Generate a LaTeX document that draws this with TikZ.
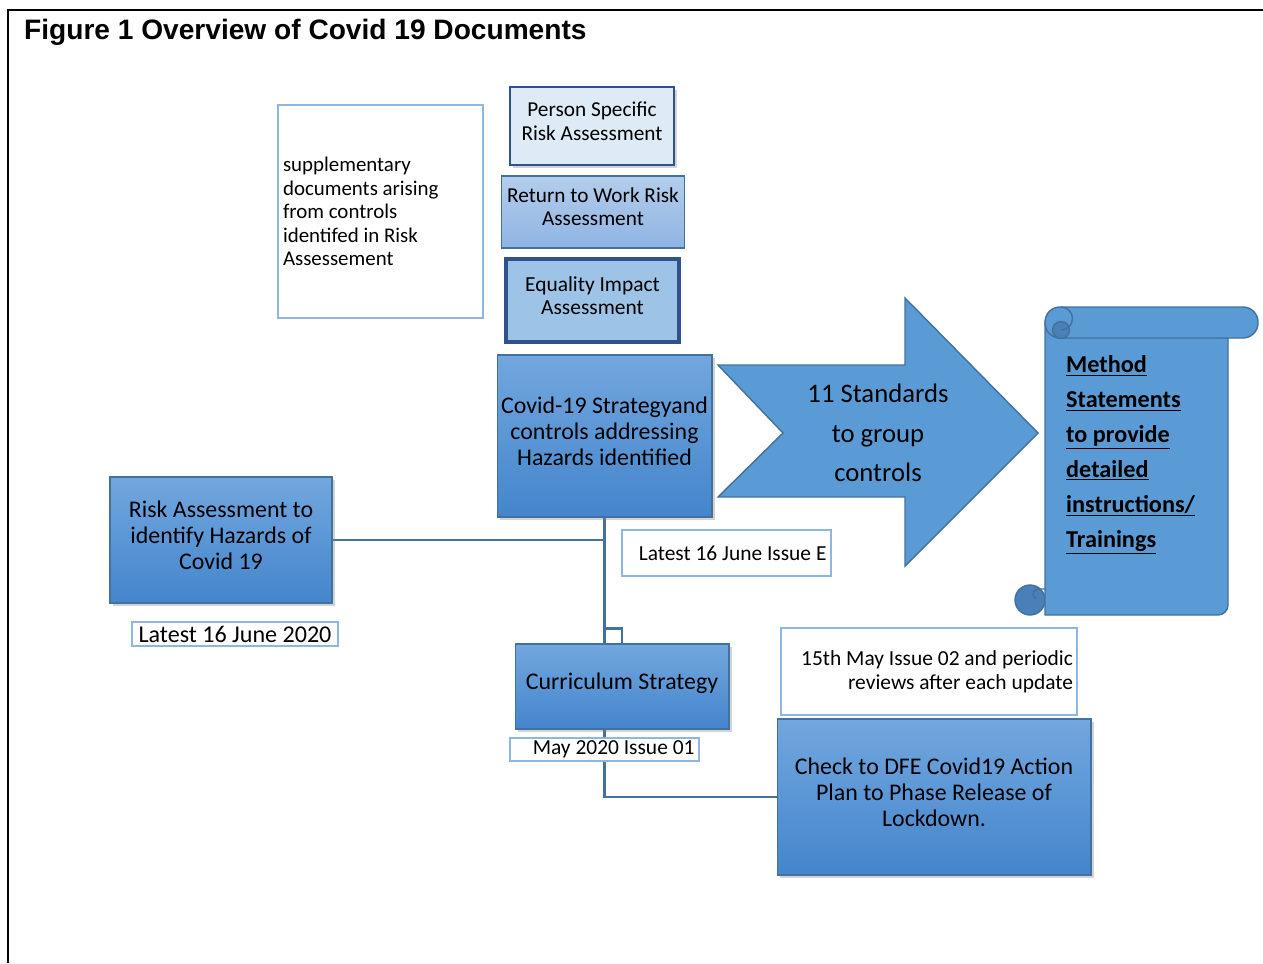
\documentclass[tikz,border=0pt]{standalone}
\usepackage{fontspec}
\setmainfont{Carlito}
\newfontfamily\headfont{Liberation Sans}
\usetikzlibrary{shadows,backgrounds}
\definecolor{linkblue}{HTML}{41719C}
\definecolor{darkblue}{HTML}{2F528F}
\definecolor{paleblue}{HTML}{DEEBF7}
\definecolor{eqblue}{HTML}{9DC3E6}
\definecolor{rtwtop}{HTML}{B4CDEB}
\definecolor{rtwbot}{HTML}{8FB4E3}
\definecolor{boxtop}{HTML}{72A7DE}
\definecolor{boxbot}{HTML}{4485CC}
\definecolor{arrowblue}{HTML}{5B9BD5}
\definecolor{noteblue}{HTML}{8DB6E2}
\definecolor{curlblue}{HTML}{4A80B8}

\begin{document}
\begin{tikzpicture}[x=0.02cm,y=-0.02cm,
    box/.style={draw=linkblue,line width=0.6pt,top color=boxtop,bottom color=boxbot,
      drop shadow={shadow xshift=1.5pt,shadow yshift=-1.5pt,opacity=0.35},
      align=center,inner sep=2pt,text depth=5.8pt,font=\fontsize{13.6}{14.8}\selectfont},
    note/.style={draw=noteblue,line width=0.7pt,fill=white,inner sep=0pt,
      font=\fontsize{12.2}{14}\selectfont},
    link/.style={draw=linkblue,line width=1.3pt},
    scroll/.style={draw=linkblue,line width=0.8pt,fill=arrowblue}]
  \useasboundingbox (0,0) rectangle (1263,963);
  \draw[line width=1.7pt] (1263,10) -- (8,10) -- (8,963);
  \node[anchor=west,font=\headfont\bfseries\fontsize{16}{19}\selectfont] (title) at (18,32) {Figure 1 Overview of Covid 19 Documents};

  \node[note,minimum width=4.1cm,minimum height=4.26cm,text width=3.9cm,align=flush left,
    font=\fontsize{11.9}{13.4}\selectfont] (supp) at (380.5,211.5)
    {supplementary\\documents arising\\from controls\\identifed in Risk\\Assessement};
  \node[draw=darkblue,line width=1.4pt,fill=paleblue,minimum width=3.28cm,minimum height=1.56cm,
    align=center,text depth=5.8pt,font=\fontsize{12.1}{13.7}\selectfont,
    drop shadow={shadow xshift=1.5pt,shadow yshift=-1.5pt,opacity=0.35}] (person) at (592,126)
    {Person Specific\\Risk Assessment};
  \node[draw=linkblue,line width=0.6pt,top color=rtwtop,bottom color=rtwbot,minimum width=3.6cm,
    minimum height=1.44cm,align=center,text depth=5.8pt,font=\fontsize{12.1}{13.1}\selectfont] (rtw) at (593,212)
    {Return to Work Risk\\Assessment};
  \node[draw=darkblue,line width=1.8pt,fill=eqblue,minimum width=3.46cm,minimum height=1.66cm,
    align=center,text depth=5.8pt,font=\fontsize{12.2}{13.1}\selectfont] (equal) at (592.5,300.5)
    {Equality Impact\\Assessment};
  \node[box,minimum width=4.3cm,minimum height=3.24cm] (strat) at (604.5,436)
    {Covid-19 Strategyand\\controls addressing\\Hazards identified};

  \draw[draw=linkblue,fill=arrowblue,line width=0.8pt] (718,365) -- (905,365) -- (905,298) -- (1038,433)
    -- (905,566) -- (905,497) -- (718,497) -- (783,433) -- cycle;
  \node[align=center,font=\fontsize{15.2}{22.5}\selectfont] (stds) at (878,433) {11 Standards\\to group\\controls};

  \path[scroll,fill=curlblue] (1030,600) circle[radius=15];
  \path[scroll] (1045,322) -- (1045,615) -- (1218,615) arc[start angle=90,end angle=0,radius=10]
    -- (1228,338) -- cycle;
  \draw[linkblue,line width=0.8pt] (1045,589) -- (1038,589) arc[start angle=-90,end angle=-250,radius=5];
  \path[scroll,rounded corners=0.3cm] (1045,307) rectangle (1258,338);
  \path[scroll,fill=curlblue] (1061,330) circle[radius=8.5];
  \draw[linkblue,line width=0.8pt] (1061,307) arc[start angle=-90,end angle=90,radius=11.5];
  \node[anchor=west,align=flush left,font=\bfseries\fontsize{13.8}{19.9}\selectfont] (method) at (1060,455)
    {\underline{Method}\\\underline{Statements}\\\underline{to provide}\\\underline{detailed}\\
     \underline{instructions/}\\\underline{Trainings}};

  \node[note,minimum width=4.18cm,minimum height=0.92cm,text width=4.0cm,align=flush right] (issueE) at (726.5,553)
    {Latest 16 June Issue E};
  \node[box,minimum width=4.44cm,minimum height=2.52cm] (risk) at (221,540)
    {Risk Assessment to\\identify Hazards of\\Covid 19};
  \node[note,minimum width=4.12cm,minimum height=0.48cm,font=\fontsize{13.7}{14}\selectfont] (june) at (235,634)
    {Latest 16 June 2020};
  \node[box,minimum width=4.28cm,minimum height=1.7cm] (curr) at (622,686.5) {Curriculum Strategy};
  \node[note,minimum width=3.78cm,minimum height=0.46cm,text width=3.6cm,align=flush right] (issue01) at (604.5,749.5)
    {May 2020 Issue 01};
  \node[note,minimum width=5.92cm,minimum height=1.74cm,text width=5.76cm,align=flush right,
    font=\fontsize{12.2}{13.7}\selectfont] (issue02) at (929,671.5)
    {15th May Issue 02 and periodic\\reviews after each update};
  \node[box,minimum width=6.28cm,minimum height=3.12cm] (check) at (934,797)
    {Check to DFE Covid19 Action\\Plan to Phase Release of\\Lockdown.};

  \begin{scope}[on background layer]
    \draw[link] (strat.south) |- (check.west);
    \draw[link] (risk.east) -- (risk.east -| strat.south);
    \path (strat.south) ++(0,111) coordinate (elbow);
    \draw[link] (elbow) -| (curr.north);
  \end{scope}
\end{tikzpicture}
\end{document}
